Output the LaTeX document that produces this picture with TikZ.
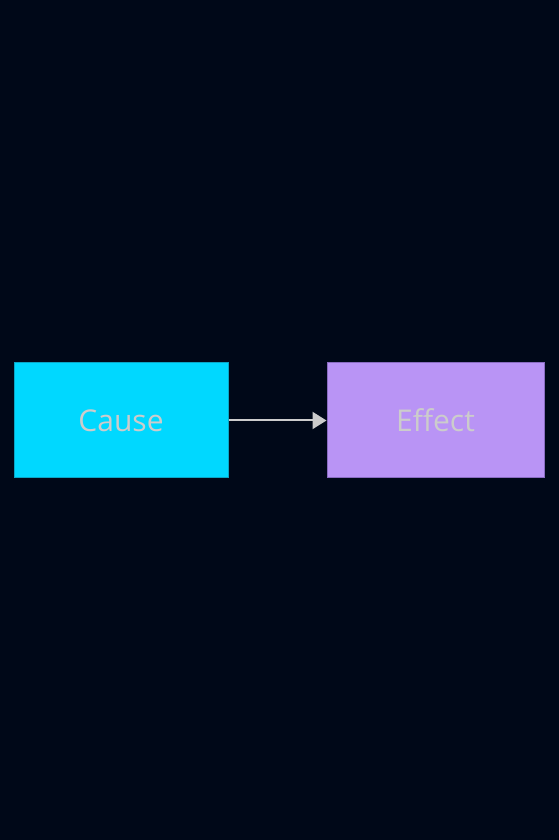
\documentclass[tikz,border=0pt]{standalone}
\usepackage{fontspec}
\setmainfont{Open Sans}
\usepackage{tikz}
\usetikzlibrary{arrows.meta,positioning}
\definecolor{bgdark}{HTML}{000818}
\definecolor{causefill}{HTML}{00D8FF}
\definecolor{causeline}{HTML}{0AA6C6}
\definecolor{effectfill}{HTML}{B994F5}
\definecolor{effectline}{HTML}{8A6CC2}
\definecolor{labelgray}{HTML}{CCCCCC}

\begin{document}
\begin{tikzpicture}[x=1pt, y=1pt,
    box/.style={rectangle, minimum height=115pt, inner sep=0pt, line width=1pt,
      text=labelgray, font=\fontsize{30}{35}\selectfont},
    link/.style={draw=labelgray, line width=2pt,
      -{Triangle[length=14pt,width=17pt,fill=labelgray]}}]
  \fill[bgdark] (0,0) rectangle (559,840);
  \useasboundingbox (0,0) rectangle (559,840);
  \node[box, fill=causefill, draw=causeline, minimum width=214pt] (cause) at (121,419.5) {Cause};
  \node[box, fill=effectfill, draw=effectline, minimum width=217pt] (effect) at (435.5,419.5) {Effect};
  \draw[link] (cause) -- (effect);
\end{tikzpicture}
\end{document}
